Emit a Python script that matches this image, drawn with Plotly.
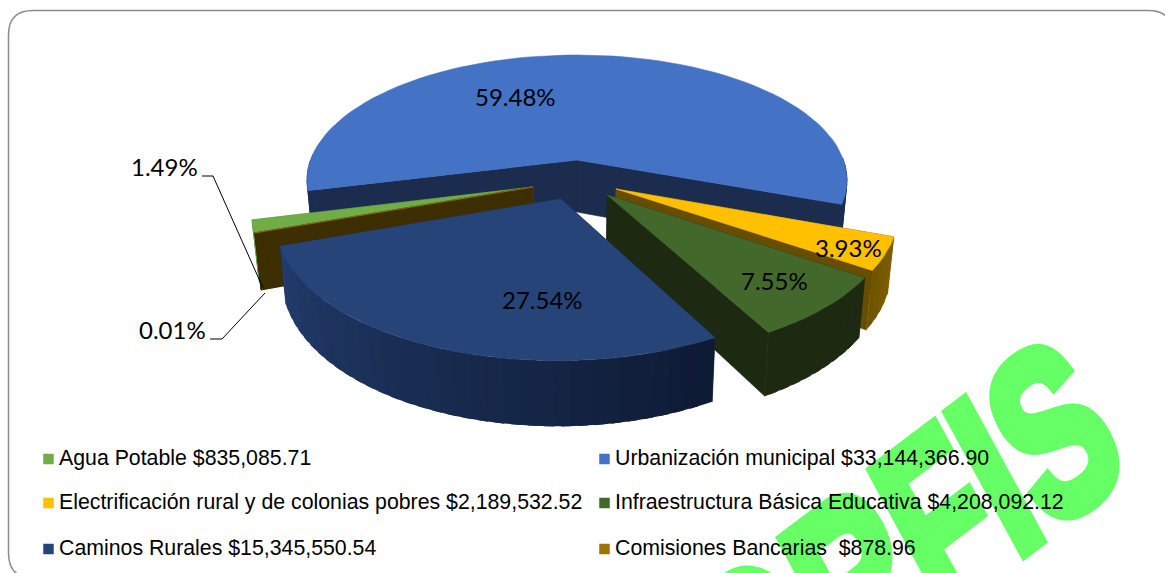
import math
import plotly.graph_objects as go

# ---- data ----
categories = ["Agua Potable", "Urbanización municipal",
              "Electrificación rural y de colonias pobres",
              "Infraestructura Básica Educativa", "Caminos Rurales", "Comisiones Bancarias"]
values = [835085.71, 33144366.90, 2189532.52, 4208092.12, 15345550.54, 878.96]
amount_labels = ["$835,085.71", "$33,144,366.90", "$2,189,532.52", "$4,208,092.12",
                 "$15,345,550.54", "\u00a0$878.96"]
percent_labels = ["1.49%", "59.48%", "3.93%", "7.55%", "27.54%", "0.01%"]
top_colors = ["#70AD47", "#4472C4", "#FFC000", "#43682B", "#264478", "#9E7400"]
legend_colors = ["#70AD47", "#4472C4", "#FFC000", "#43682B", "#264478", "#9E7400"]
face_colors = ["#4B7530", "#1B2C4E", "#664D00", "#1D2A11", "#1B2C4E", "#3D2E00"]
wall_left = ["#5F9A3A", "#1B2D50", "#6E5300", "#1D2A11", "#223C6C", "#3D2E00"]
wall_right = ["#5F9A3A", "#1B2D50", "#7F6000", "#1D2A11", "#0E1A33", "#3D2E00"]
offsets = [(-0.16, 0.214), (0, 0), (0.141, 0.229), (0.108, 0.275), (-0.058, 0.304), (-0.16, 0.214)]
paint_order = [1, 2, 3, 0, 5, 4]
label_xy = [(164, 166), (515, 96), (848, 247), (774, 280), (542, 299), (172, 329)]

# ---- 3D look ----
CX, CY, R, RK, P = 577, 160, 266.5, 121.8, 0.16
DEPTH, SHRINK = 52, 0.98
URB_START = 256.0


def project(u, v):
    s = 1 / (1 - P * v)
    return CX + R * u * s, CY + RK * v * s, s


def base(u, v):
    x, y, s = project(u, v)
    return CX + (x - CX) * SHRINK, y + DEPTH * s


def hex_mix(a, b, t):
    ca = [int(a[i:i + 2], 16) for i in (1, 3, 5)]
    cb = [int(b[i:i + 2], 16) for i in (1, 3, 5)]
    return "#%02x%02x%02x" % tuple(round(p + (q - p) * t) for p, q in zip(ca, cb))


total = sum(values)
sweeps = [v / total * 360 for v in values]
starts = [0.0] * 6
angle = URB_START - sweeps[0]
for i in range(6):
    starts[i] = angle
    angle += sweeps[i]
starts[5] = starts[0] - sweeps[5]

fig = go.Figure()


def poly(xs, ys, color, width=0.6):
    fig.add_trace(go.Scatter(x=xs, y=ys, mode="lines", fill="toself", fillcolor=color,
                             line=dict(color=color, width=width), hoverinfo="skip", showlegend=False))


def disc_point(theta, off):
    t = math.radians(theta)
    return math.sin(t) + off[0], -math.cos(t) + off[1]


for i in paint_order:
    t0, sw, off = starts[i], sweeps[i], offsets[i]
    t1 = t0 + sw
    n = max(2, int(sw / 3) + 1)
    angles = [t0 + sw * k / n for k in range(n + 1)]
    # cut faces
    ax, ay, _ = project(*off)
    bx, by = base(*off)
    for th in (t0, t1):
        u, v = disc_point(th, off)
        x, y, _ = project(u, v)
        xb, yb = base(u, v)
        poly([ax, x, xb, bx, ax], [ay, y, yb, by, ay], face_colors[i])
    # outer wall: each strip runs under the next one so no seam shows
    for k, (a, b) in enumerate(zip(angles[:-1], angles[1:])):
        if max(-math.cos(math.radians(a)), -math.cos(math.radians(b))) < 0.0:
            continue
        b2 = min(b + sw / n * 0.6, t1)
        ua, va = disc_point(a, off)
        ub, vb = disc_point(b2, off)
        xa, ya, _ = project(ua, va)
        xb, yb, _ = project(ub, vb)
        xc, yc = base(ub, vb)
        xd, yd = base(ua, va)
        tt = 1 - ((a + b) / 2 - t0) / sw
        col = hex_mix(wall_left[i], wall_right[i], tt)
        poly([xa, xb, xc, xd, xa], [ya, yb, yc, yd, ya], col, width=0.6 if wall_left[i] == wall_right[i] else 0)
    # top
    xs, ys = [ax], [ay]
    for th in angles:
        u, v = disc_point(th, off)
        x, y, _ = project(u, v)
        xs.append(x)
        ys.append(y)
    xs.append(ax)
    ys.append(ay)
    poly(xs, ys, top_colors[i])

# leader lines
fig.add_trace(go.Scatter(x=[202, 213, 263], y=[176, 176, 288], mode="lines",
                         line=dict(color="#000000", width=1), hoverinfo="skip", showlegend=False))
fig.add_trace(go.Scatter(x=[210, 222, 265], y=[339, 339, 293], mode="lines",
                         line=dict(color="#000000", width=1), hoverinfo="skip", showlegend=False))

# legend
legend_rows = [459, 459, 503, 503, 549, 549]
legend_cols = [48.5, 604.5, 48.5, 604.5, 48.5, 604.5]
fig.add_trace(go.Scatter(x=legend_cols, y=legend_rows, mode="markers",
                         marker=dict(symbol="square", size=10.5, color=legend_colors, line=dict(width=0)),
                         hoverinfo="skip", showlegend=False))

annotations = [dict(text="<b>ORFIS</b>", x=905, y=476, xref="x", yref="y", showarrow=False,
                    font=dict(family="Liberation Sans", size=230, color="#66FF66"),
                    xanchor="center", yanchor="middle")]
for cat, amt, lx, ly in zip(categories, amount_labels, legend_cols, legend_rows):
    annotations.append(dict(text=f"{cat} {amt}", x=lx + 8.5, y=ly - 1, xref="x", yref="y", showarrow=False,
                            xanchor="left", yanchor="middle",
                            font=dict(family="Liberation Sans", size=21.3, color="#000000")))
for lab, (lx, ly) in zip(percent_labels, label_xy):
    annotations.append(dict(text=lab, x=lx, y=ly, xref="x", yref="y", showarrow=False,
                            xanchor="center", yanchor="middle",
                            font=dict(family="Lato", size=24, color="#000000")))

frame = "M 8.5 35 Q 8.5 10.5 33 10.5 L 1148 10.5 Q 1173 10.5 1173 35 L 1173 578 L 33 578 Q 8.5 578 8.5 553 Z"

fig.update_layout(
    width=1165, height=573, margin=dict(l=0, r=0, t=0, b=0),
    paper_bgcolor="#ffffff", plot_bgcolor="#ffffff", showlegend=False,
    xaxis=dict(range=[0, 1165], visible=False, fixedrange=True),
    yaxis=dict(range=[573, 0], visible=False, fixedrange=True),
    annotations=annotations,
    shapes=[dict(type="path", path=frame, xref="x", yref="y", layer="below",
                 line=dict(color="#8C8C8C", width=1.5), fillcolor="rgba(0,0,0,0)")],
)

# The watermark is squeezed and sheared like the original word art
post = """
document.body.style.margin='0';
document.documentElement.style.overflow='hidden';
var wm = document.querySelector('.annotation');
var g = wm.querySelector('.annotation-text-g');
g.removeAttribute('transform');
g.querySelectorAll('g').forEach(function(e){e.removeAttribute('transform');});
var t = wm.querySelector('text');
t.setAttribute('x', 0); t.setAttribute('y', 0);
t.setAttribute('text-anchor', 'start');
t.setAttribute('transform', 'matrix(0.542,-0.411,0.478,0.879,752,759)');
t.style.stroke = '#66FF66'; t.style.strokeWidth = '13px'; t.style.strokeLinejoin = 'miter';
"""
fig.write_html("out.html", config={"displayModeBar": False}, post_script=post)
